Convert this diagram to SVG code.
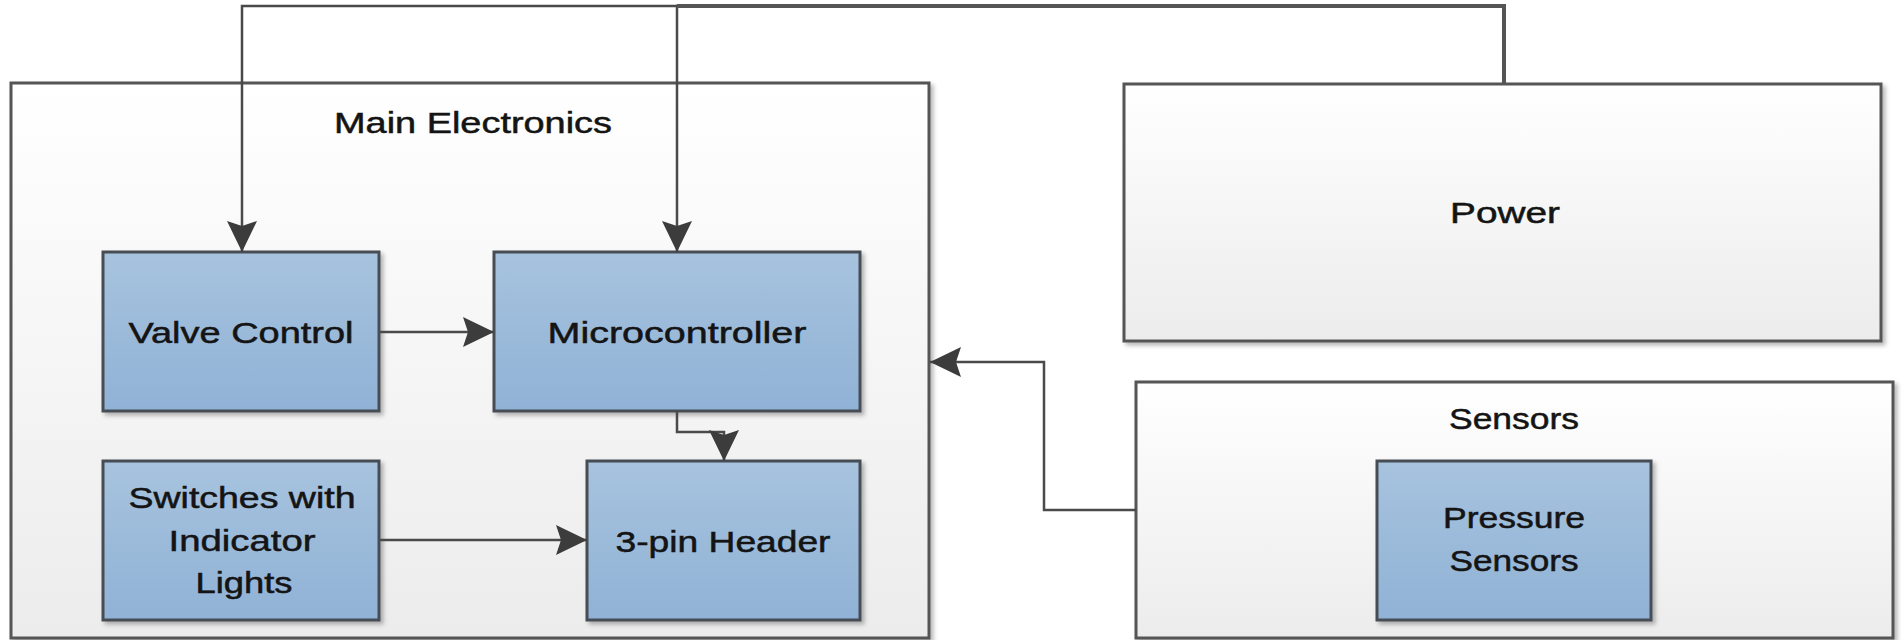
<svg xmlns="http://www.w3.org/2000/svg" width="1904" height="640" viewBox="0 0 1904 640">
<defs>
<linearGradient id="gCont" x1="0" y1="0" x2="0" y2="1">
<stop offset="0" stop-color="#ffffff"/>
<stop offset="1" stop-color="#ececec"/>
</linearGradient>
<linearGradient id="gBlue" x1="0" y1="0" x2="0" y2="1">
<stop offset="0" stop-color="#a7c3de"/>
<stop offset="1" stop-color="#90b2d6"/>
</linearGradient>
<filter id="shadow" x="-5%" y="-5%" width="115%" height="115%">
<feDropShadow dx="3" dy="3" stdDeviation="2" flood-color="#000" flood-opacity="0.28"/>
</filter>
<marker id="arrow" markerUnits="userSpaceOnUse" markerWidth="34" markerHeight="32" refX="31" refY="15" orient="auto">
<path d="M0,0 L31,15 L0,30 L5,15 z" fill="#3c3c3c"/>
</marker>
</defs>
<style>
.cont{fill:url(#gCont);stroke:#555555;stroke-width:3;filter:url(#shadow)}
.blue{fill:url(#gBlue);stroke:#474d55;stroke-width:3;filter:url(#shadow)}
.lbl{font-family:"Liberation Sans",Arial,sans-serif;font-size:29px;fill:#141414;stroke:#141414;stroke-width:0.5;text-anchor:middle}
.conn{fill:none;stroke:#4a4a4a;stroke-width:2.5}
.top{fill:none;stroke-width:4;stroke:#555555}
</style>
<rect width="1904" height="640" fill="#ffffff"/>

<g id="main-electronics">
<rect class="cont" x="11" y="83" width="918" height="555"/>
<text class="lbl" x="473" y="133" textLength="278" lengthAdjust="spacingAndGlyphs">Main Electronics</text>
</g>

<g id="power">
<rect class="cont" x="1124" y="84" width="757" height="257"/>
<text class="lbl" x="1505" y="223" textLength="110" lengthAdjust="spacingAndGlyphs">Power</text>
</g>

<g id="sensors">
<rect class="cont" x="1136" y="382" width="757" height="256"/>
<text class="lbl" x="1514" y="429" textLength="130" lengthAdjust="spacingAndGlyphs">Sensors</text>
</g>

<g id="valve-control">
<rect class="blue" x="103" y="252" width="276" height="159"/>
<text class="lbl" x="241" y="343" textLength="225" lengthAdjust="spacingAndGlyphs">Valve Control</text>
</g>

<g id="microcontroller">
<rect class="blue" x="494" y="252" width="366" height="159"/>
<text class="lbl" x="677" y="343" textLength="259" lengthAdjust="spacingAndGlyphs">Microcontroller</text>
</g>

<g id="switches">
<rect class="blue" x="103" y="461" width="276" height="159"/>
<text class="lbl" x="242" y="508" textLength="227" lengthAdjust="spacingAndGlyphs">Switches with</text>
<text class="lbl" x="242" y="551" textLength="147" lengthAdjust="spacingAndGlyphs">Indicator</text>
<text class="lbl" x="244" y="593" textLength="97" lengthAdjust="spacingAndGlyphs">Lights</text>
</g>

<g id="header">
<rect class="blue" x="587" y="461" width="273" height="159"/>
<text class="lbl" x="723" y="552" textLength="215" lengthAdjust="spacingAndGlyphs">3-pin Header</text>
</g>

<g id="pressure-sensors">
<rect class="blue" x="1377" y="461" width="274" height="159"/>
<text class="lbl" x="1514" y="528" textLength="142" lengthAdjust="spacingAndGlyphs">Pressure</text>
<text class="lbl" x="1514" y="571" textLength="129" lengthAdjust="spacingAndGlyphs">Sensors</text>
</g>

<g id="connectors">
<path class="conn" d="M1504,84 V6 H242 V252" marker-end="url(#arrow)"/>
<path class="conn" d="M1504,84 V6 H677 V252" marker-end="url(#arrow)"/>
<path class="top" d="M1504,84 V6 H677"/>
<path class="conn" d="M380,332 H494" marker-end="url(#arrow)"/>
<path class="conn" d="M677,411 V432 H724 V461" marker-end="url(#arrow)"/>
<path class="conn" d="M380,540 H587" marker-end="url(#arrow)"/>
<path class="conn" d="M1136,510 H1044 V362 H930" marker-end="url(#arrow)"/>
</g>
</svg>
